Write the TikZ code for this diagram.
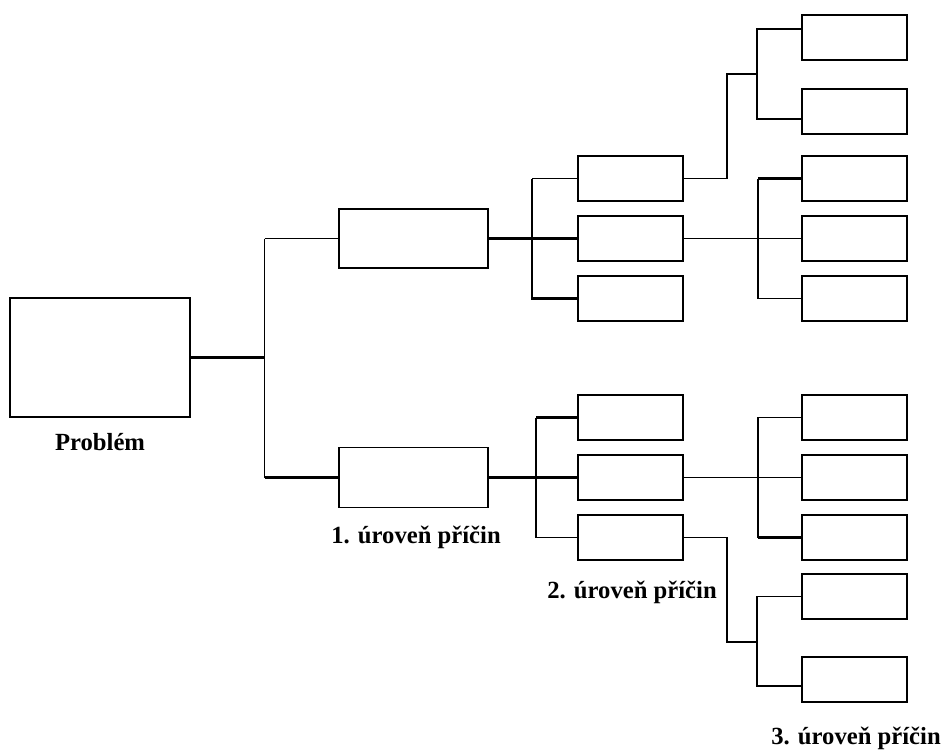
\documentclass[tikz,border=0pt]{standalone}
\usepackage{fontspec}
\setmainfont{Liberation Serif}
\usepackage{tikz}

\begin{document}
\begin{tikzpicture}[x=0.75pt,y=-0.75pt,
        box/.style={draw,line width=1pt,inner sep=0pt,minimum width=105*0.75pt,minimum height=45*0.75pt},
        thinline/.style={line width=0.9pt},
        boldline/.style={line width=1.8pt},
        lbl/.style={font=\bfseries\fontsize{18.5}{20}\selectfont,inner sep=0pt}]
        \useasboundingbox (0,0) rectangle (944,751);
        \node[box,minimum width=180*0.75pt,minimum height=119*0.75pt] (problem) at (100,357.5) {};
        \node[box,minimum width=149*0.75pt,minimum height=59*0.75pt] (c1a) at (413.5,238.5) {};
        \node[box,minimum width=149*0.75pt,minimum height=60*0.75pt] (c1b) at (413.5,477.5) {};
        \foreach \n/\y in {c2a/178.5,c2b/238.5,c2c/298.5,c2d/417.5,c2e/477.5,c2f/537.5}{
            \node[box] (\n) at (630.5,\y) {};
        }
        \foreach \n/\y in {c3a/37.5,c3b/111.5,c3c/178.5,c3d/238.5,c3e/298.5,
                c3f/417.5,c3g/477.5,c3h/537.5,c3i/596.5,c3j/679.5}{
            \node[box] (\n) at (854.5,\y) {};
        }
        \node[lbl] (lproblem) at (100,442) {Problém};
        \node[lbl] (lone) at (416,537) {1. úroveň příčin};
        \node[lbl] (ltwo) at (632,592) {2. úroveň příčin};
        \node[lbl] (lthree) at (856,738) {3. úroveň příčin};

        \draw[boldline] (problem.east) -- ++(74,0) coordinate (j0);
        \draw[thinline] (j0 |- c1a.west) -- (j0 |- c1b.west);
        \draw[thinline] (j0 |- c1a.west) -- (c1a.west);
        \draw[boldline] (j0 |- c1b.west) -- (c1b.west);

        \draw[boldline] (c1a.east) -- (c2b.west);
        \coordinate (j1) at (532,238.5);
        \draw[boldline] (j1 |- c2a.west) -- (j1 |- c2c.west) -- (c2c.west);
        \draw[thinline] (j1 |- c2a.west) -- (c2a.west);

        \draw[boldline] (c1b.east) -- (c2e.west);
        \coordinate (j2) at (536,477.5);
        \draw[thinline] (j2 |- c2d.west) -- (j2 |- c2f.west) -- (c2f.west);
        \draw[boldline] (j2 |- c2d.west) -- (c2d.west);

        \coordinate (k1) at (727,74);
        \coordinate (k2) at (757,74);
        \draw[thinline] (c2a.east) -| (k1) -- (k2);
        \draw[thinline] ([yshift=6.4pt]c3a.west) -| (k2) |- ([yshift=-5.6pt]c3b.west);

        \coordinate (j3) at (758,238.5);
        \draw[thinline] (c2b.east) -- (c3d.west);
        \draw[thinline] (j3 |- c3c.west) -- (j3 |- c3e.west) -- (c3e.west);
        \draw[boldline] (j3 |- c3c.west) -- (c3c.west);

        \coordinate (j4) at (758,477.5);
        \draw[thinline] (c2e.east) -- (c3g.west);
        \draw[thinline] (c3f.west) -| (j4 |- c3h.west);
        \draw[boldline] (j4 |- c3h.west) -- (c3h.west);

        \coordinate (k3) at (727,642);
        \coordinate (k4) at (757,642);
        \draw[thinline] (c2f.east) -| (k3) -- (k4);
        \draw[thinline] (c3i.west) -| (k4) |- ([yshift=-4.9pt]c3j.west);
\end{tikzpicture}
\end{document}
